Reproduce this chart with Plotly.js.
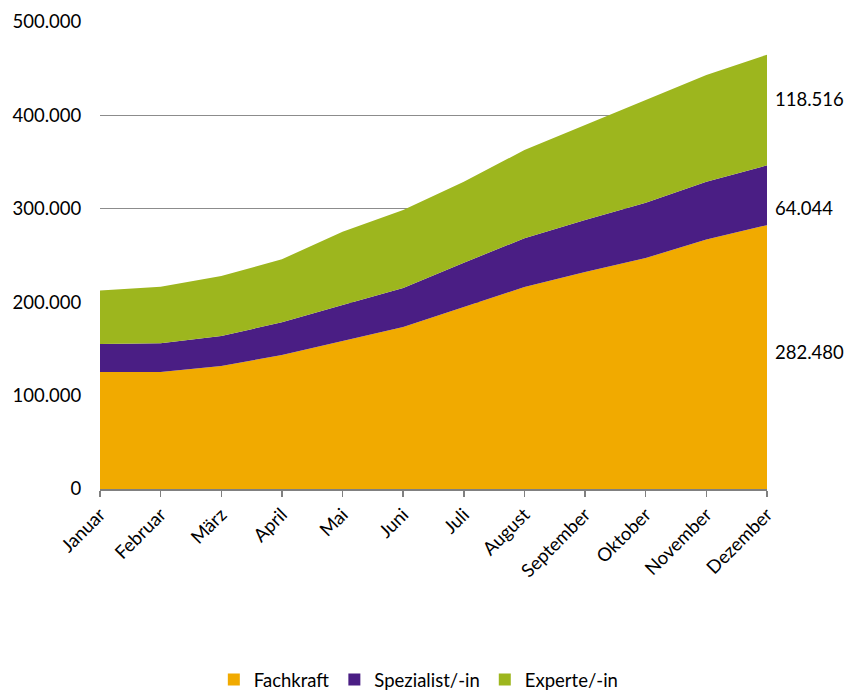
<!DOCTYPE html>
<html>
<head>
<meta charset="utf-8">
<script src="https://cdn.plot.ly/plotly-3.0.1.min.js"></script>
<style>
  html, body { margin: 0; padding: 0; background: #ffffff; }
  #chart { width: 845px; height: 691px; }
</style>
</head>
<body>
<div id="chart"></div>
<script>
const months = ["Januar", "Februar", "März", "April", "Mai", "Juni", "Juli", "August", "September", "Oktober", "November", "Dezember"];
const fachkraft = [125300, 125300, 131700, 143500, 158500, 173400, 194900, 216300, 232300, 247300, 267100, 282480];
const spezialist = [30000, 30700, 32100, 35000, 38500, 41800, 47400, 52100, 55700, 59200, 61900, 64044];
const experte = [57100, 60600, 64200, 67500, 78500, 83500, 86700, 94500, 101700, 110000, 114200, 118516];
const seriesNames = ["Fachkraft", "Spezialist/-in", "Experte/-in"];
const endLabels = ["282.480", "64.044", "118.516"];
const yTicks = [0, 100000, 200000, 300000, 400000, 500000];

const colors = ["#F1AA00", "#4A1E84", "#9DB61E"];
const fontFam = "Lato, 'Noto Sans', sans-serif";
const seriesData = [fachkraft, spezialist, experte];

const traces = [];
seriesData.forEach((vals, i) => {
  traces.push({
    type: "scatter",
    x: months,
    y: vals,
    name: seriesNames[i],
    stackgroup: "one",
    mode: "none",
    fillcolor: colors[i],
    line: { width: 0 },
    showlegend: false,
    hoverinfo: "y+name"
  });
});
// legend entries as small squares
seriesData.forEach((vals, i) => {
  traces.push({
    type: "scatter",
    x: [null],
    y: [null],
    name: seriesNames[i],
    mode: "markers",
    marker: { symbol: "square", size: 12, color: colors[i] },
    showlegend: true,
    hoverinfo: "skip"
  });
});

// end labels: positioned beside the last point of each band
const last = months.length - 1;
const bottoms = [0, fachkraft[last], fachkraft[last] + spezialist[last]];
const labelOffsets = [0.52, 0.29, 0.6];
const annotations = seriesData.map((vals, i) => ({
  xref: "paper", x: 1.0, xanchor: "left", xshift: 6,
  yref: "y", y: bottoms[i] + vals[last] * labelOffsets[i], yanchor: "middle",
  text: endLabels[i], showarrow: false,
  font: { family: fontFam, size: 18.5, color: "#000000" }
}));

const layout = {
  width: 845,
  height: 691,
  margin: { l: 100, r: 78, t: 22, b: 202, autoexpand: false },
  paper_bgcolor: "#ffffff",
  plot_bgcolor: "#ffffff",
  separators: ",.",
  font: { family: fontFam, size: 18.5, color: "#000000" },
  showlegend: true,
  legend: {
    orientation: "h",
    x: 0.478, xanchor: "center",
    y: -0.368, yanchor: "top",
    font: { family: fontFam, size: 18.5, color: "#000000" },
    itemwidth: 30,
    traceorder: "normal"
  },
  xaxis: {
    type: "category",
    range: [0, months.length - 1],
    showgrid: false,
    zeroline: false,
    showline: true,
    linecolor: "#808080",
    linewidth: 1.5,
    ticks: "outside",
    ticklen: 6,
    tickwidth: 1.5,
    tickcolor: "#808080",
    tickangle: -45,
    automargin: false,
    tickfont: { family: fontFam, size: 18.5, color: "#000000" },
    fixedrange: true
  },
  yaxis: {
    range: [0, 500000],
    tickvals: yTicks,
    tickformat: ",d",
    showgrid: true,
    gridcolor: "#8c8c8c",
    gridwidth: 1,
    zeroline: false,
    showline: false,
    ticks: "outside",
    ticklen: 14,
    tickcolor: "rgba(0,0,0,0)",
    automargin: false,
    tickfont: { family: fontFam, size: 18.5, color: "#000000" },
    fixedrange: true
  },
  annotations: annotations
};

Plotly.newPlot("chart", traces, layout, { displayModeBar: false, staticPlot: true });
</script>
</body>
</html>
